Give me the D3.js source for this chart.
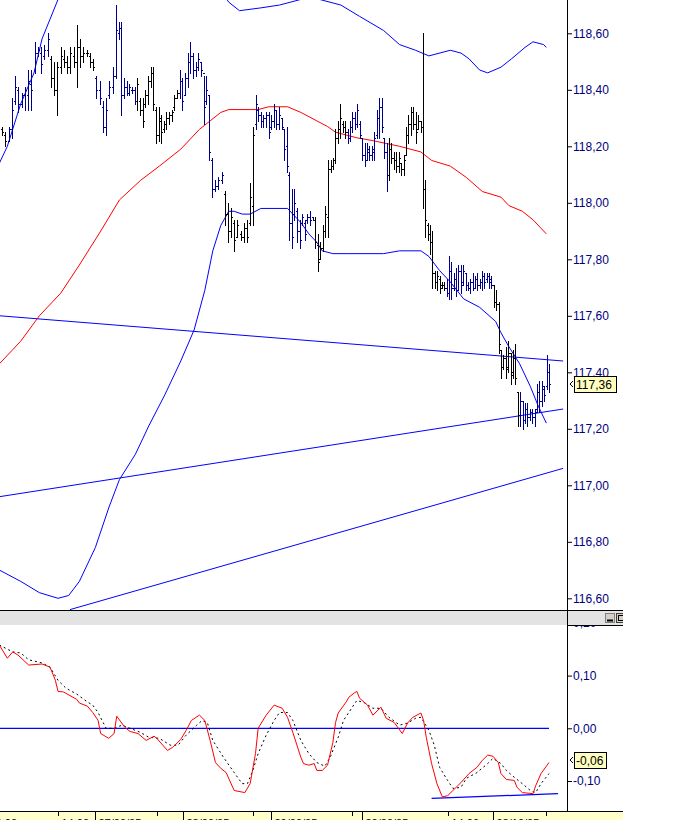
<!DOCTYPE html>
<html><head><meta charset="utf-8">
<script src="https://cdn.jsdelivr.net/npm/d3@7"></script>
<style>body{margin:0;background:#fff}svg{display:block}</style>
</head><body>
<svg id="c" width="700" height="820"></svg>
<script>
// ---------------- DATA ----------------
const barOpen=[118.26,118.24,118.22,118.26,118.36,118.40,118.35,118.38,118.38,118.42,
118.47,118.53,118.53,118.52,118.54,118.51,118.44,118.40,118.48,118.51,
118.50,118.48,118.52,118.50,118.55,118.52,118.53,118.52,118.50,118.44,
118.40,118.34,118.27,118.38,118.41,118.45,118.60,118.62,118.38,118.41,
118.39,118.40,118.40,118.36,118.36,118.33,118.35,118.38,118.43,118.46,
118.33,118.24,118.29,118.26,118.28,118.30,118.31,118.34,118.37,118.39,
118.43,118.38,118.44,118.50,118.52,118.47,118.48,118.50,118.46,118.36,
118.38,118.15,118.05,118.06,118.08,118.03,117.96,117.90,117.93,117.88,
117.89,117.88,117.91,117.93,117.99,118.28,118.33,118.31,118.29,118.30,
118.31,118.27,118.29,118.33,118.28,118.30,118.26,118.20,118.10,117.93,
117.96,117.97,117.90,117.93,117.93,117.94,117.95,117.95,117.94,117.85,
117.80,117.84,117.90,117.95,118.12,118.13,118.15,118.23,118.26,118.28,
118.27,118.25,118.23,118.27,118.30,118.28,118.28,118.23,118.17,118.15,
118.18,118.17,118.18,118.24,118.30,118.34,118.23,118.18,118.10,118.19,
118.16,118.15,118.13,118.14,118.12,118.17,118.24,118.28,118.32,118.28,
118.26,118.29,118.27,118.05,117.92,117.89,117.86,117.75,117.72,117.73,
117.71,117.71,117.70,117.68,117.76,117.70,117.73,117.69,117.76,117.72,
117.75,117.71,117.70,117.72,117.70,117.73,117.71,117.72,117.74,117.73,
117.74,117.73,117.71,117.65,117.64,117.48,117.42,117.45,117.42,117.47,
117.40,117.45,117.33,117.25,117.30,117.23,117.27,117.24,117.26,117.24,
117.27,117.33,117.30,117.34,117.35,117.40];
const barHigh=[118.27,118.25,118.27,118.37,118.45,118.41,118.39,118.41,118.47,118.47,
118.57,118.55,118.55,118.56,118.60,118.52,118.50,118.50,118.55,118.54,
118.52,118.55,118.55,118.63,118.58,118.55,118.54,118.53,118.51,118.45,
118.43,118.36,118.37,118.43,118.48,118.70,118.64,118.64,118.44,118.43,
118.42,118.41,118.41,118.44,118.37,118.37,118.40,118.45,118.48,118.48,
118.34,118.34,118.31,118.29,118.32,118.32,118.33,118.38,118.40,118.47,
118.44,118.46,118.53,118.57,118.53,118.50,118.53,118.50,118.45,118.45,
118.38,118.16,118.08,118.09,118.11,118.04,118.00,117.98,117.94,117.94,
117.90,117.93,117.94,118.07,118.27,118.38,118.34,118.32,118.31,118.32,
118.32,118.31,118.35,118.33,118.34,118.30,118.26,118.27,118.11,118.05,
118.05,117.98,117.94,117.96,117.94,117.96,117.97,117.95,117.95,117.89,
117.86,117.92,117.99,118.15,118.15,118.16,118.26,118.29,118.35,118.29,
118.29,118.26,118.29,118.32,118.32,118.35,118.29,118.23,118.21,118.21,
118.20,118.20,118.25,118.33,118.37,118.37,118.23,118.21,118.23,118.21,
118.18,118.18,118.18,118.14,118.17,118.27,118.31,118.34,118.34,118.32,
118.31,118.29,118.60,118.08,117.93,117.92,117.90,117.76,117.76,117.74,
117.72,117.72,117.73,117.81,117.79,117.75,117.77,117.78,117.78,117.78,
117.75,117.72,117.73,117.75,117.74,117.75,117.73,117.76,117.75,117.75,
117.75,117.74,117.71,117.69,117.65,117.48,117.46,117.49,117.51,117.47,
117.48,117.50,117.33,117.33,117.30,117.29,117.29,117.27,117.27,117.27,
117.36,117.37,117.37,117.35,117.46,117.43];
const barLow=[118.24,118.20,118.22,118.23,118.35,118.32,118.34,118.33,118.33,118.33,
118.46,118.52,118.46,118.51,118.52,118.41,118.38,118.31,118.46,118.48,
118.46,118.46,118.48,118.41,118.48,118.50,118.52,118.48,118.47,118.37,
118.35,118.25,118.24,118.37,118.39,118.44,118.58,118.31,118.37,118.38,
118.38,118.39,118.35,118.33,118.31,118.27,118.34,118.35,118.41,118.33,
118.21,118.22,118.21,118.25,118.26,118.28,118.29,118.33,118.37,118.37,
118.33,118.38,118.41,118.46,118.44,118.45,118.47,118.45,118.28,118.35,
118.15,118.02,118.04,118.05,118.07,117.92,117.86,117.88,117.83,117.88,
117.87,117.86,117.86,117.92,117.92,118.26,118.29,118.27,118.27,118.27,
118.23,118.26,118.27,118.26,118.26,118.26,118.15,118.11,117.87,117.84,
117.94,117.86,117.84,117.92,117.87,117.93,117.92,117.94,117.84,117.76,
117.80,117.83,117.88,117.88,118.11,118.12,118.14,118.21,118.23,118.25,
118.23,118.21,118.22,118.25,118.26,118.27,118.23,118.15,118.13,118.15,
118.15,118.15,118.15,118.23,118.23,118.25,118.16,118.04,118.08,118.14,
118.12,118.11,118.11,118.10,118.10,118.17,118.21,118.24,118.26,118.21,
118.26,118.25,117.98,117.88,117.87,117.82,117.70,117.70,117.69,117.68,
117.70,117.69,117.67,117.66,117.66,117.69,117.67,117.69,117.68,117.71,
117.69,117.69,117.68,117.69,117.70,117.69,117.70,117.69,117.70,117.72,
117.70,117.70,117.63,117.62,117.47,117.38,117.41,117.38,117.40,117.36,
117.38,117.36,117.21,117.21,117.20,117.22,117.21,117.23,117.22,117.21,
117.26,117.26,117.28,117.30,117.34,117.33];
const barClose=[118.25,118.22,118.26,118.33,118.41,118.35,118.38,118.40,118.43,118.40,
118.53,118.54,118.49,118.54,118.58,118.44,118.40,118.48,118.52,118.50,
118.48,118.53,118.50,118.55,118.52,118.53,118.53,118.50,118.48,118.40,
118.37,118.27,118.33,118.41,118.45,118.61,118.62,118.38,118.41,118.39,
118.41,118.40,118.36,118.42,118.33,118.29,118.38,118.43,118.46,118.35,
118.24,118.30,118.25,118.28,118.30,118.31,118.32,118.37,118.39,118.43,
118.36,118.44,118.50,118.52,118.47,118.48,118.51,118.47,118.34,118.40,
118.18,118.05,118.06,118.08,118.10,117.96,117.90,117.95,117.87,117.92,
117.88,117.91,117.88,118.02,118.24,118.35,118.31,118.29,118.30,118.31,
118.25,118.29,118.33,118.28,118.31,118.27,118.19,118.13,117.93,117.88,
118.00,117.90,117.87,117.95,117.89,117.95,117.94,117.94,117.86,117.79,
117.84,117.90,117.96,118.12,118.13,118.15,118.23,118.26,118.30,118.27,
118.25,118.23,118.27,118.30,118.28,118.33,118.24,118.17,118.15,118.19,
118.17,118.19,118.23,118.30,118.34,118.27,118.18,118.10,118.19,118.16,
118.15,118.13,118.16,118.12,118.15,118.24,118.28,118.32,118.28,118.25,
118.29,118.27,118.05,117.94,117.89,117.86,117.75,117.72,117.74,117.70,
117.71,117.70,117.68,117.76,117.70,117.73,117.69,117.76,117.71,117.76,
117.71,117.70,117.72,117.70,117.73,117.71,117.72,117.74,117.72,117.74,
117.72,117.71,117.65,117.64,117.50,117.42,117.45,117.41,117.47,117.39,
117.45,117.38,117.25,117.30,117.23,117.27,117.24,117.26,117.24,117.26,
117.33,117.30,117.35,117.32,117.40,117.36];
// colour runs of the bars: [count, 'k' black | 'n' navy]
const barColorRuns=[[2,'k'],[13,'n'],[14,'k'],[14,'n'],[16,'k'],[16,'n'],[10,'k'],[23,'n'],[13,'k'],[17,'n'],[24,'k'],[20,'n'],[11,'k'],[13,'n']];
// session time of some bars, in chart time units (bar number -> time slot)
const barSlotKnots=[[0,0],[35,42.7],[70,77.6],[84,94.1],[113,122.2],[152,157.8],[183,185.2],[205,205]];

// Bollinger style bands, [time slot, price]
const bandUpper=[[-1,118.14],[2,118.20],[7,118.35],[12,118.46],[15,118.58],[18,118.65],[21,118.72],[30,118.85],[45,118.95],[60,118.95],[75,118.85],[85,118.71],[89,118.68],[97,118.69],[104,118.70],[112,118.72],[119,118.72],[127,118.70],[134,118.66],[143,118.61],[149,118.56],[155,118.54],[160,118.52],[168,118.54],[172,118.53],[175,118.51],[179,118.47],[182,118.46],[187,118.48],[191,118.51],[196,118.55],[199,118.57],[203,118.56],[204,118.55]];
const bandMiddle=[[-1,117.43],[7,117.51],[14,117.60],[22,117.68],[29,117.78],[37,117.90],[44,118.01],[52,118.08],[59,118.13],[67,118.19],[74,118.26],[78,118.29],[82,118.32],[85,118.33],[93,118.33],[96,118.33],[100,118.34],[107,118.34],[112,118.32],[118,118.29],[122,118.27],[125,118.25],[133,118.23],[139,118.22],[144,118.21],[149,118.20],[157,118.18],[161,118.15],[168,118.13],[174,118.09],[180,118.04],[187,118.02],[190,117.99],[195,117.97],[199,117.94],[204,117.89]];
const bandLower=[[-1,116.70],[7,116.66],[14,116.62],[21,116.60],[25,116.61],[29,116.66],[35,116.78],[40,116.92],[44,117.02],[50,117.11],[55,117.21],[61,117.32],[67,117.44],[72,117.55],[76,117.69],[79,117.83],[82,117.92],[85,117.97],[87,117.97],[90,117.96],[93,117.96],[97,117.98],[107,117.98],[109,117.96],[112,117.93],[115,117.89],[118,117.86],[120,117.83],[124,117.82],[130,117.82],[143,117.82],[149,117.83],[157,117.83],[160,117.81],[164,117.76],[168,117.72],[173,117.66],[179,117.63],[185,117.58],[187,117.54],[190,117.49],[194,117.43],[198,117.35],[201,117.28],[204,117.22]];
const trendLines=[[[-0.75,117.60],[210.3,117.44]],[[-0.75,116.96],[210.3,117.27]],[[25.5,116.56],[210.3,117.06]]];

const oscMain=[[-1,0.158],[2,0.133],[4,0.145],[6,0.139],[10,0.120],[15,0.122],[18,0.116],[20,0.091],[21,0.070],[23,0.069],[28,0.055],[29,0.048],[32,0.042],[34,0.030],[36,0.015],[37,-0.010],[40,-0.019],[42,-0.010],[43,0.023],[46,0.002],[48,-0.006],[51,-0.010],[54,-0.023],[57,-0.015],[58,-0.019],[62,-0.042],[64,-0.036],[67,-0.021],[69,-0.004],[71,0.015],[74,0.025],[76,0.015],[78,-0.023],[80,-0.065],[82,-0.076],[84,-0.084],[87,-0.118],[91,-0.122],[93,-0.105],[95,-0.048],[96,0.000],[99,0.025],[102,0.044],[105,0.038],[107,0.021],[109,-0.008],[112,-0.055],[113,-0.067],[115,-0.070],[117,-0.067],[118,-0.080],[120,-0.080],[122,-0.070],[124,-0.027],[125,0.011],[126,0.029],[129,0.050],[130,0.059],[132,0.067],[133,0.070],[134,0.057],[137,0.044],[139,0.025],[142,0.040],[144,0.019],[147,0.011],[150,-0.010],[152,0.010],[154,0.021],[157,0.029],[158,0.015],[159,-0.017],[161,-0.067],[163,-0.105],[165,-0.130],[167,-0.128],[169,-0.118],[172,-0.103],[175,-0.086],[178,-0.074],[180,-0.061],[182,-0.051],[184,-0.053],[186,-0.065],[187,-0.086],[189,-0.097],[192,-0.099],[193,-0.112],[195,-0.122],[199,-0.124],[200,-0.109],[202,-0.086],[205,-0.065]];
const oscSignal=[[-1,0.158],[4,0.145],[7,0.143],[10,0.130],[15,0.124],[18,0.116],[21,0.091],[24,0.076],[28,0.065],[32,0.050],[34,0.044],[36,0.030],[38,0.010],[39,0.000],[42,0.000],[45,0.006],[48,0.000],[52,-0.008],[55,-0.017],[59,-0.019],[63,-0.032],[66,-0.032],[69,-0.013],[73,0.006],[75,0.015],[77,0.010],[79,-0.023],[83,-0.055],[87,-0.084],[90,-0.105],[92,-0.105],[94,-0.080],[96,-0.048],[99,-0.013],[102,0.015],[104,0.030],[107,0.030],[109,0.015],[112,-0.023],[115,-0.048],[118,-0.065],[121,-0.072],[123,-0.055],[126,-0.017],[128,0.015],[131,0.038],[133,0.053],[136,0.048],[139,0.038],[142,0.038],[145,0.021],[149,0.006],[152,0.010],[155,0.019],[157,0.021],[160,-0.004],[162,-0.032],[164,-0.074],[167,-0.099],[169,-0.114],[172,-0.112],[174,-0.095],[178,-0.084],[182,-0.067],[184,-0.057],[187,-0.067],[189,-0.080],[192,-0.093],[195,-0.105],[198,-0.118],[200,-0.122],[202,-0.105],[205,-0.086]];
const oscZeroLine=[[-1,0],[205,0]];
const oscTrendLine=[[161,-0.133],[208.4,-0.124]];

const priceTicks=[116.6,116.8,117.0,117.2,117.4,117.6,117.8,118.0,118.2,118.4,118.6];
const oscTicks=[-0.1,0,0.1,0.2];
const lastPrice=117.36;
const lastOsc=-0.06;
const timeTicks=[[-6,'14:00',0],[21,'14:00',0],[35,'27/09/05',1],[58,'',0],[68,'28/09/05',1],[94,'',0],[101,'29/09/05',1],[131,'',0],[135,'30/09/05',1],[167,'14:00',0],[184,'03/10/05',1],[204,'',0]];

// ---------------- DRAW ----------------
const svg=d3.select('#c');
const FONT='"Liberation Sans", Arial, sans-serif';
const AX=567, MAIN_B=610, OSC_T=625, OSC_B=811, RIGHT=622;
const xs=d3.scaleLinear().domain([0,205]).range([2,549]);
const slotOf=d3.scaleLinear().domain(barSlotKnots.map(d=>d[0])).range(barSlotKnots.map(d=>d[1]));
const ys=d3.scaleLinear().domain([116.6,118.6]).range([598.3,33.3]);
const yo=d3.scaleLinear().domain([-0.1,0.1]).range([781,675.6]);

const defs=svg.append('defs');
defs.append('clipPath').attr('id','mainClip').append('rect').attr('x',0).attr('y',0).attr('width',AX).attr('height',MAIN_B);
defs.append('clipPath').attr('id','oscClip').append('rect').attr('x',0).attr('y',OSC_T).attr('width',AX).attr('height',OSC_B-OSC_T);
defs.append('clipPath').attr('id','allClip').append('rect').attr('x',0).attr('y',0).attr('width',RIGHT+1).attr('height',820);

const root=svg.append('g').attr('clip-path','url(#allClip)');
const gMain=root.append('g').attr('clip-path','url(#mainClip)');
const lineMain=d3.line().x(d=>xs(d[0])).y(d=>ys(d[1]));

trendLines.forEach(t=>gMain.append('path').attr('d',lineMain(t)).attr('fill','none').attr('stroke','#0000ff').attr('stroke-width',1));
gMain.append('path').attr('d',lineMain(bandUpper)).attr('fill','none').attr('stroke','#0000ff').attr('stroke-width',1);
gMain.append('path').attr('d',lineMain(bandLower)).attr('fill','none').attr('stroke','#0000ff').attr('stroke-width',1);
gMain.append('path').attr('d',lineMain(bandMiddle)).attr('fill','none').attr('stroke','#ff0000').attr('stroke-width',1);

const colors=[];
barColorRuns.forEach(([n,c])=>{for(let k=0;k<n;k++)colors.push(c);});
const ry=v=>Math.round(ys(v));
const paths={k:'',n:''};
barOpen.forEach((o,i)=>{
  const px=Math.round(xs(slotOf(i)));
  const c=colors[i]||'k';
  paths[c]+=`M${px+0.5},${ry(barHigh[i])}V${ry(barLow[i])+1}`+
            `M${px-1},${ry(o)+0.5}H${px+1}`+
            `M${px},${ry(barClose[i])+0.5}H${px+2}`;
});
gMain.append('path').attr('d',paths.k).attr('fill','none').attr('stroke','#000000').attr('stroke-width',1).attr('shape-rendering','crispEdges');
gMain.append('path').attr('d',paths.n).attr('fill','none').attr('stroke','#00008f').attr('stroke-width',1).attr('shape-rendering','crispEdges');

const gOsc=root.append('g').attr('clip-path','url(#oscClip)');
const lineOsc=d3.line().x(d=>xs(d[0])).y(d=>yo(d[1]));
gOsc.append('path').attr('d',lineOsc(oscZeroLine)).attr('fill','none').attr('stroke','#0000ff').attr('stroke-width',1.2);
gOsc.append('path').attr('d',lineOsc(oscTrendLine)).attr('fill','none').attr('stroke','#0000ff').attr('stroke-width',1.2);
gOsc.append('path').attr('d',lineOsc(oscSignal)).attr('fill','none').attr('stroke','#000000').attr('stroke-width',1).attr('stroke-dasharray','2,3');
gOsc.append('path').attr('d',lineOsc(oscMain)).attr('fill','none').attr('stroke','#ff0000').attr('stroke-width',1);

const fmt=d=>d3.format('.2f')(d).replace('.',',').replace('−','-');
function styleAxis(g){
  g.select('.domain').remove();
  g.selectAll('.tick line').attr('stroke','#000000');
  g.selectAll('.tick text').attr('fill','#000080').attr('font-family',FONT).attr('font-size','12px');
}
root.append('g').attr('transform',`translate(${AX},0)`)
  .call(d3.axisRight(ys).tickValues(priceTicks).tickSize(5).tickPadding(1).tickFormat(fmt)).call(styleAxis);
root.append('g').attr('transform',`translate(${AX},0)`)
  .call(d3.axisRight(yo).tickValues(oscTicks).tickSize(5).tickPadding(1).tickFormat(fmt)).call(styleAxis);

root.append('rect').attr('x',0).attr('y',MAIN_B).attr('width',RIGHT+1).attr('height',OSC_T-MAIN_B).attr('fill','#e3e3e3');
root.append('line').attr('x1',0).attr('x2',RIGHT+1).attr('y1',MAIN_B+0.5).attr('y2',MAIN_B+0.5).attr('stroke','#000');
root.append('line').attr('x1',AX).attr('x2',RIGHT+1).attr('y1',OSC_T+0.5).attr('y2',OSC_T+0.5).attr('stroke','#000');
root.append('rect').attr('x',605.5).attr('y',613.5).attr('width',9).attr('height',9).attr('fill','#d4d0c8').attr('stroke','#808080');
root.append('line').attr('x1',607).attr('x2',613).attr('y1',620.5).attr('y2',620.5).attr('stroke','#000').attr('stroke-width',2);
root.append('rect').attr('x',616.5).attr('y',613.5).attr('width',9).attr('height',9).attr('fill','#d4d0c8').attr('stroke','#404040');
root.append('rect').attr('x',618.5).attr('y',615.5).attr('width',5).attr('height',5).attr('fill','none').attr('stroke','#000');

root.append('line').attr('x1',AX+0.5).attr('x2',AX+0.5).attr('y1',0).attr('y2',OSC_B).attr('stroke','#000');

root.append('rect').attr('x',0).attr('y',OSC_B+1).attr('width',RIGHT+1).attr('height',820-OSC_B).attr('fill','#ffffcc');
root.append('line').attr('x1',0).attr('x2',RIGHT+1).attr('y1',OSC_B+0.5).attr('y2',OSC_B+0.5).attr('stroke','#000');
timeTicks.forEach(([i,lab,maj])=>{
  const px=Math.round(xs(i))+0.5;
  root.append('line').attr('x1',px).attr('x2',px).attr('y1',OSC_B).attr('y2',maj?820:OSC_B+5).attr('stroke','#000');
  if(lab) root.append('text').attr('x',px+3).attr('y',827).attr('font-family',FONT).attr('font-size','11px').attr('fill','#000').text(lab);
});

function valueBox(yPos,txt,w){
  const g=root.append('g');
  const yc=Math.round(yPos);
  g.append('path').attr('d',`M573,${yc-3}L570,${yc}L573,${yc+3}`).attr('fill','none').attr('stroke','#000');
  g.append('rect').attr('x',574.5).attr('y',yc-7.5).attr('width',w).attr('height',16).attr('fill','#ffffc0').attr('stroke','#000');
  g.append('text').attr('x',576).attr('y',yc+5).attr('font-family',FONT).attr('font-size','12px').attr('fill','#000').text(txt);
}
valueBox(ys(lastPrice),fmt(lastPrice),42);
valueBox(yo(lastOsc),fmt(lastOsc),32);
</script>
</body></html>
